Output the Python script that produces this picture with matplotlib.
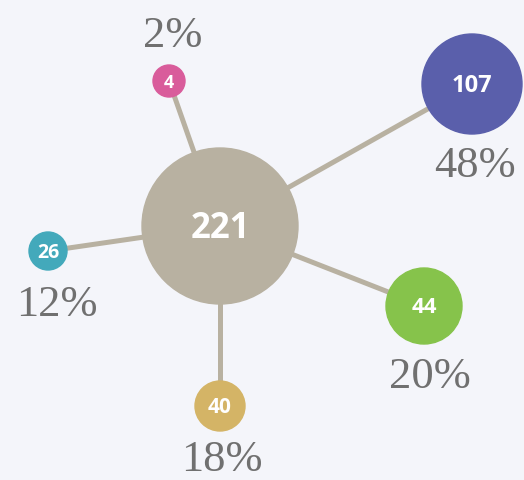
"""Hub-and-spoke breakdown chart: total in the middle, parts around it."""

import matplotlib
matplotlib.use("Agg")
import matplotlib.pyplot as plt
from matplotlib.patches import Circle

# data
total = 221
values = [4, 107, 44, 40, 26]
colors = ["#d95c9b", "#5a5fab", "#86c34b", "#d4b466", "#43a9bb"]

# layout (pixel coordinates, y down)
hub_xy, hub_r = (220, 227), 78
sat_xy = [(169, 82), (472, 85), (424, 307), (220, 407), (48, 252)]
sat_r = [16, 50, 38, 25, 19]
pct_xy = [(173, 36), (475, 166), (430, 377), (222, 460), (57, 305)]
num_size = [13, 17, 16, 15, 14]

BG = "#f4f5fa"
HUB = "#b8b1a1"
PCT = "#707070"
NUM_FONT = ["Open Sans", "DejaVu Sans"]

fig = plt.figure(figsize=(5.24, 4.81), dpi=100, facecolor=BG)
ax = fig.add_axes([0, 0, 1, 1])
ax.set_facecolor(BG)
ax.set_xlim(0, 524)
ax.set_ylim(481, 0)
ax.set_aspect("equal")
ax.axis("off")

for (x, y) in sat_xy:
    ax.plot([hub_xy[0], x], [hub_xy[1], y], color=HUB, linewidth=3.6,
            solid_capstyle="butt", zorder=1)

ax.add_patch(Circle(hub_xy, hub_r, color=HUB, zorder=2))
ax.text(hub_xy[0], hub_xy[1] + 2, str(total), ha="center", va="center",
        color="white", fontsize=25, fontweight="bold", family=NUM_FONT,
        zorder=3)

for v, c, xy, r, pxy, fs in zip(values, colors, sat_xy, sat_r, pct_xy, num_size):
    ax.add_patch(Circle(xy, r, color=c, zorder=2))
    ax.text(xy[0], xy[1] + 1, str(v), ha="center", va="center",
            color="white", fontsize=fs, fontweight="bold", family=NUM_FONT,
            zorder=3)
    ax.text(pxy[0], pxy[1], f"{round(100 * v / total)}%", ha="center",
            va="center", color=PCT, fontsize=32, family="Liberation Serif",
            zorder=3)

fig.savefig("out.png", dpi=100, facecolor=BG)
